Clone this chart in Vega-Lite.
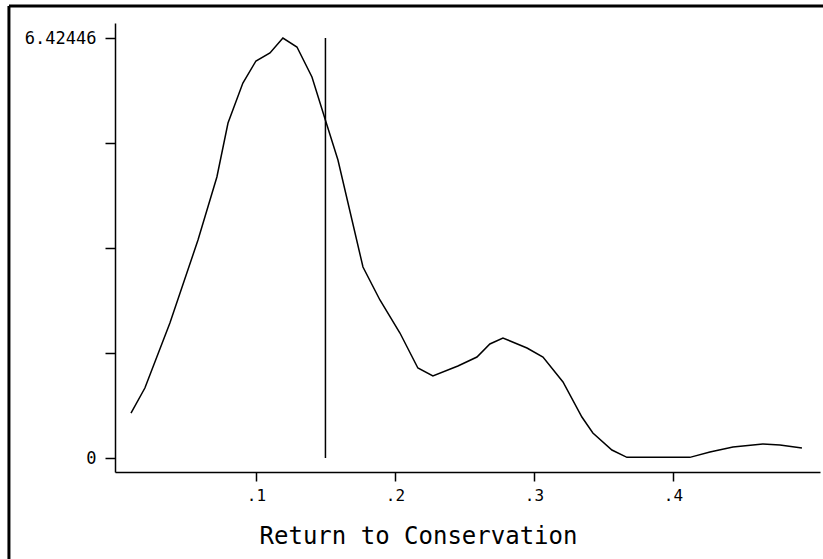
{
  "$schema": "https://vega.github.io/schema/vega-lite/v6.json",
  "width": 705,
  "height": 449,
  "autosize": {"type": "none"},
  "padding": {"left": 115, "top": 23, "right": 3, "bottom": 87},
  "background": "white",
  "config": {"view": {"stroke": null}, "font": "DejaVu Sans Mono"},
  "datasets": {
    "density": [
      {"x": 0.0101, "y": 0.688},
      {"x": 0.0201, "y": 1.071},
      {"x": 0.0381, "y": 2.065},
      {"x": 0.0583, "y": 3.334},
      {"x": 0.0719, "y": 4.298},
      {"x": 0.0799, "y": 5.124},
      {"x": 0.0906, "y": 5.736},
      {"x": 0.1000, "y": 6.073},
      {"x": 0.1101, "y": 6.195},
      {"x": 0.1194, "y": 6.424},
      {"x": 0.1295, "y": 6.287},
      {"x": 0.1403, "y": 5.828},
      {"x": 0.1504, "y": 5.139},
      {"x": 0.1590, "y": 4.558},
      {"x": 0.1691, "y": 3.640},
      {"x": 0.1770, "y": 2.922},
      {"x": 0.1892, "y": 2.417},
      {"x": 0.2036, "y": 1.912},
      {"x": 0.2165, "y": 1.377},
      {"x": 0.2273, "y": 1.254},
      {"x": 0.2453, "y": 1.407},
      {"x": 0.2590, "y": 1.545},
      {"x": 0.2683, "y": 1.744},
      {"x": 0.2777, "y": 1.836},
      {"x": 0.2950, "y": 1.683},
      {"x": 0.3065, "y": 1.545},
      {"x": 0.3209, "y": 1.163},
      {"x": 0.3345, "y": 0.627},
      {"x": 0.3424, "y": 0.382},
      {"x": 0.3561, "y": 0.122},
      {"x": 0.3669, "y": 0.01},
      {"x": 0.4122, "y": 0.01},
      {"x": 0.4266, "y": 0.092},
      {"x": 0.4432, "y": 0.168},
      {"x": 0.4647, "y": 0.214},
      {"x": 0.4770, "y": 0.199},
      {"x": 0.4928, "y": 0.153}
    ],
    "ref": [{"x": 0.15, "y0": 0, "y1": 6.42446}]
  },
  "layer": [
    {
      "data": {"name": "density"},
      "mark": {"type": "line", "color": "black", "strokeWidth": 1.5},
      "encoding": {
        "x": {
          "field": "x",
          "type": "quantitative",
          "scale": {"domain": [-0.0014, 0.5058], "nice": false, "zero": false},
          "axis": {
            "values": [0.1, 0.2, 0.3, 0.4],
            "labelExpr": "replace(format(datum.value, '.1f'), '0.', '.')",
            "grid": false,
            "domainColor": "black",
            "domainWidth": 1.5,
            "tickColor": "black",
            "tickWidth": 1.5,
            "tickSize": 9,
            "labelColor": "black",
            "labelFontSize": 16,
            "labelPadding": 6,
            "labelFlush": false,
            "title": "Return to Conservation",
            "titleColor": "black",
            "titleFontSize": 24,
            "titleFontWeight": "normal",
            "titleX": 303,
            "titleY": 71,
            "titleAlign": "center",
            "titleBaseline": "alphabetic"
          }
        },
        "y": {
          "field": "y",
          "type": "quantitative",
          "scale": {"domain": [-0.214, 6.654], "nice": false, "zero": false},
          "axis": {
            "values": [0, 1.606, 3.212, 4.818, 6.42446],
            "labelExpr": "datum.value == 0 ? '0' : (datum.value > 6.4 ? '6.42446' : '')",
            "grid": false,
            "domainColor": "black",
            "domainWidth": 1.5,
            "tickColor": "black",
            "tickWidth": 1.5,
            "tickSize": 10,
            "labelColor": "black",
            "labelFontSize": 17,
            "labelPadding": 9,
            "title": null
          }
        }
      }
    },
    {
      "data": {"name": "ref"},
      "mark": {"type": "rule", "color": "black", "strokeWidth": 1.5},
      "encoding": {
        "x": {"field": "x", "type": "quantitative"},
        "y": {"field": "y0", "type": "quantitative"},
        "y2": {"field": "y1"}
      }
    },
    {
      "data": {"values": [{}]},
      "mark": {"type": "rule", "color": "black", "strokeWidth": 3},
      "encoding": {
        "x": {"datum": -0.0777, "type": "quantitative"},
        "y": {"datum": -1.545, "type": "quantitative"},
        "y2": {"datum": 6.914}
      }
    },
    {
      "data": {"values": [{}]},
      "mark": {"type": "rule", "color": "black", "strokeWidth": 3},
      "encoding": {
        "x": {"datum": -0.0777, "type": "quantitative"},
        "x2": {"datum": 0.508},
        "y": {"datum": 6.914, "type": "quantitative"}
      }
    }
  ]
}
